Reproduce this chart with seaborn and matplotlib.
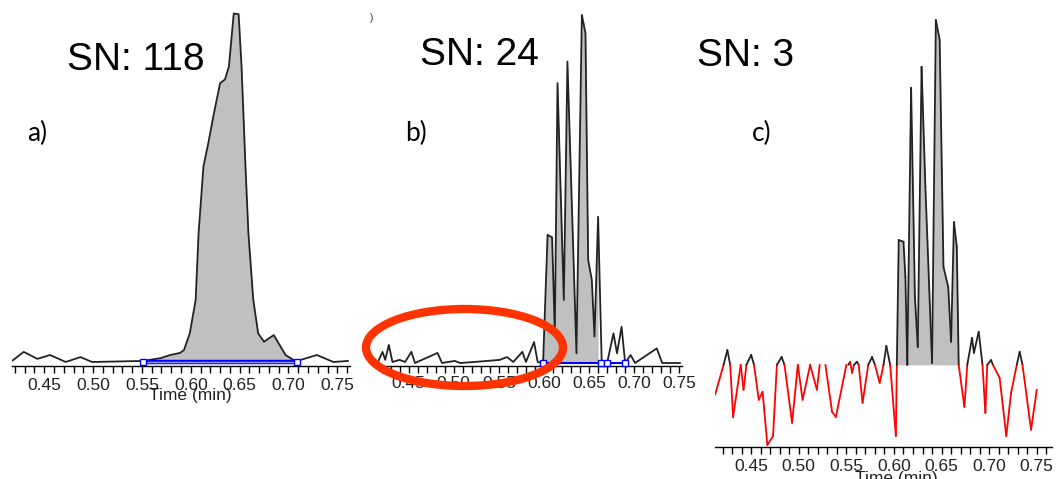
import numpy as np
import pandas as pd
import matplotlib
matplotlib.use('Agg')
import matplotlib.pyplot as plt
from matplotlib.patches import Ellipse
from matplotlib.ticker import MultipleLocator, FormatStrFormatter
import seaborn as sns

# ---- data (time in min, intensity in % of tallest peak)
a_time = [0.417, 0.429, 0.443, 0.456, 0.472, 0.487, 0.499, 0.551, 0.569, 0.579,
          0.589, 0.593, 0.599, 0.605, 0.608, 0.613, 0.618, 0.623, 0.630, 0.635,
          0.639, 0.644, 0.649, 0.652, 0.656, 0.659, 0.664, 0.669, 0.675, 0.680,
          0.685, 0.692, 0.697, 0.705, 0.709, 0.729, 0.746, 0.761]
a_int = [0.3, 2.9, 0.9, 2.0, 0.0, 1.4, 0.0, 0.3, 1.1, 2.0,
         2.6, 3.4, 8.2, 17.8, 36.9, 56.1, 62.8, 70.3, 79.9, 81.0,
         84.6, 99.9, 99.7, 84.6, 56.1, 36.9, 17.8, 8.2, 5.8, 6.8,
         7.7, 4.4, 2.0, 0.6, 0.3, 2.0, 0.0, 0.3]
a_window = [0.551, 0.709]

b_time = [0.416, 0.421, 0.424, 0.428, 0.432, 0.440, 0.446, 0.453, 0.457, 0.482,
          0.487, 0.501, 0.507, 0.523, 0.551, 0.559, 0.566, 0.576, 0.580, 0.589,
          0.593, 0.599, 0.604, 0.609, 0.612, 0.615, 0.622, 0.626, 0.636, 0.642,
          0.646, 0.649, 0.653, 0.656, 0.660, 0.664, 0.670, 0.677, 0.681, 0.686,
          0.690, 0.696, 0.701, 0.725, 0.731, 0.751]
b_int = [0.3, 3.2, 0.9, 5.2, 0.3, 0.9, 0.3, 3.2, 0.0, 2.9,
         0.0, 0.6, 0.0, 0.3, 0.9, 1.7, 0.3, 3.2, 0.3, 6.0,
         0.3, 0.0, 36.8, 36.1, 8.5, 80.4, 18.1, 86.6, 2.8, 100.0,
         94.7, 29.6, 23.9, 7.6, 42.0, 0.0, 0.0, 8.5, 2.8, 10.4,
         0.0, 2.3, 0.0, 4.2, 0.0, 0.0]
b_window = [0.599, 0.663, 0.670, 0.690]

c_time = [0.412, 0.421, 0.425, 0.428, 0.431, 0.439, 0.442, 0.445, 0.450, 0.453,
          0.458, 0.462, 0.467, 0.473, 0.477, 0.482, 0.485, 0.493, 0.499, 0.504,
          0.512, 0.519, 0.522, 0.528, 0.535, 0.539, 0.550, 0.552, 0.554, 0.556,
          0.558, 0.561, 0.563, 0.567, 0.573, 0.577, 0.580, 0.585, 0.589, 0.592,
          0.596, 0.602, 0.603, 0.605, 0.610, 0.612, 0.614, 0.618, 0.622, 0.625,
          0.629, 0.633, 0.640, 0.644, 0.648, 0.652, 0.657, 0.660, 0.663, 0.666,
          0.668, 0.674, 0.677, 0.682, 0.684, 0.689, 0.693, 0.696, 0.698, 0.702,
          0.704, 0.711, 0.718, 0.723, 0.729, 0.732, 0.735, 0.744, 0.750]
c_int = [-8.7, 0.0, 4.3, 0.0, -15.1, 0.0, -7.2, 0.0, 2.9, 0.0,
         -10.1, -7.8, -23.2, -20.6, 0.0, 2.3, 0.0, -16.8, 0.0, -10.1,
         0.0, -7.2, 0.0, 0.0, -13.6, -15.1, 0.0, 0.0, 0.9, -2.3,
         0.0, 0.9, 0.0, -11.0, 0.0, 2.3, 0.0, -5.2, 0.0, 5.5,
         0.0, -20.6, 0.0, 36.2, 35.7, 25.5, 0.0, 80.3, 19.7, 5.2,
         86.4, 51.6, 0.6, 100.0, 94.2, 28.4, 22.6, 6.7, 41.4, 34.2,
         0.0, -12.2, 0.0, 7.8, 3.5, 9.6, 0.0, -13.9, 0.0, 1.4,
         0.0, -3.8, -20.6, -8.1, 0.0, 3.8, 0.0, -18.8, -7.2]
c_window = [0.603, 0.668]

panel_tags = ['a)', 'b)', 'c)']
sn_labels = ['SN: 118', 'SN: 24', 'SN: 3']

# ---- look
sns.set_theme(style='white')
plt.rcParams['font.family'] = ['Liberation Sans', 'DejaVu Sans']

line_col = '#222222'
fill_col = '#c0c0c0'
blue = '#0000ff'

W, H = 1059, 479
fig = plt.figure(figsize=(W / 100, H / 100), dpi=100)


def px_axes(x0, x1, y_top, y_bot):
    return fig.add_axes([x0 / W, 1 - y_bot / H, (x1 - x0) / W, (y_bot - y_top) / H])


ax_a = px_axes(12, 350, 2, 366)
ax_b = px_axes(378, 682, 2, 366)
ax_c = px_axes(715, 1052, 2, 447)

ax_a.set_xlim(0.417, 0.763)
ax_a.set_ylim(-1.15, 103.2)
ax_b.set_xlim(0.416, 0.753)
ax_b.set_ylim(-0.86, 103.7)
ax_c.set_xlim(0.412, 0.766)
ax_c.set_ylim(-23.8, 105.2)

for ax, pad in [(ax_a, 3.5), (ax_b, 2.5), (ax_c, 3.5)]:
    ax.set_facecolor('none')
    ax.grid(False)
    sns.despine(ax=ax, left=True)
    ax.spines['bottom'].set_color('black')
    ax.spines['bottom'].set_linewidth(1)
    ax.set_yticks([])
    ax.xaxis.set_major_locator(MultipleLocator(0.05))
    ax.xaxis.set_minor_locator(MultipleLocator(0.01))
    ax.xaxis.set_major_formatter(FormatStrFormatter('%.2f'))
    ax.tick_params(axis='x', which='both', bottom=True, direction='out',
                   length=5, width=1, color='black')
    ax.tick_params(axis='x', which='major', labelsize=12.5, pad=pad,
                   labelcolor='#222222')

# ---- a)
at = np.array(a_time)
ai = np.array(a_int)
m = (at >= a_window[0]) & (at <= a_window[1])
ax_a.fill_between(at[m], 0, ai[m], color=fill_col, lw=0, zorder=1)
sns.lineplot(x=at, y=ai, ax=ax_a, color=line_col, lw=1.3, estimator=None, sort=False, zorder=2)
ax_a.plot(a_window, [0, 0], color=blue, lw=3.2, solid_capstyle='butt', zorder=3)
ax_a.plot(a_window, [0, 0], color='#9a9aff', lw=1, solid_capstyle='butt', zorder=3)
ax_a.plot(a_window, [0, 0], 's', ms=4.5, mfc='white', mec=blue, mew=1, zorder=4, clip_on=False)

# ---- b)
bt = np.array(b_time)
bi = np.array(b_int)
m = (bt >= b_window[0]) & (bt <= b_window[1])
ax_b.fill_between(bt[m], 0, bi[m], color=fill_col, lw=0, zorder=1)
sns.lineplot(x=bt, y=bi, ax=ax_b, color=line_col, lw=1.3, estimator=None, sort=False, zorder=2)
ax_b.plot([b_window[0], b_window[-1]], [0, 0], color=blue, lw=1.5, zorder=3)
ax_b.plot(b_window, [0] * len(b_window), 's', ms=4, mfc='white', mec=blue, mew=1, zorder=4, clip_on=False)

# ---- c) : positive part black, negative part red
ct = np.array(c_time)
ci = np.array(c_int)
m = (ct >= c_window[0]) & (ct <= c_window[1])
ax_c.fill_between(ct[m], 0, np.clip(ci[m], 0, None), color=fill_col, lw=0, zorder=1)
for i in range(len(ct) - 1):
    seg_x = ct[i:i + 2]
    seg_y = ci[i:i + 2]
    if seg_y.min() < 0:
        ax_c.plot(seg_x, seg_y, color='#ff0000', lw=1.3, zorder=2)
    elif seg_y.max() > 0:
        ax_c.plot(seg_x, seg_y, color=line_col, lw=1.3, zorder=2)

# axis titles
ax_a.set_xlabel('Time (min)', fontsize=12.5, color='#222222')
ax_a.xaxis.set_label_coords(0.527, -0.082)
ax_a.xaxis.label.set_verticalalignment('center')
ax_c.set_xlabel('Time (min)', fontsize=12.5, color='#222222')
ax_c.xaxis.set_label_coords(0.537, -0.070)
ax_c.xaxis.label.set_verticalalignment('center')

# ---- annotations
for (x, y), s in zip([(67, 70), (420, 65), (697, 66)], sn_labels):
    fig.text(x / W, 1 - y / H, s, fontsize=28, color='black', ha='left', va='baseline')
for (x, y), s in zip([(27, 141), (405, 141), (752, 141)], panel_tags):
    fig.text(x / W, 1 - y / H, s, fontsize=19, family=['Lato', 'DejaVu Sans'],
             color='black', ha='left', va='baseline')
# stray crop mark at the top of panel b
fig.text(370 / W, 1 - 21 / H, ')', fontsize=7, color='#333333', ha='left', va='baseline')

ring = Ellipse((464.5 / W, 1 - 347.5 / H), 197 / W, 77 / H, transform=fig.transFigure,
               fill=False, ec='#ff3300', lw=6, zorder=5)
fig.add_artist(ring)

fig.savefig('out.png', dpi=100)
